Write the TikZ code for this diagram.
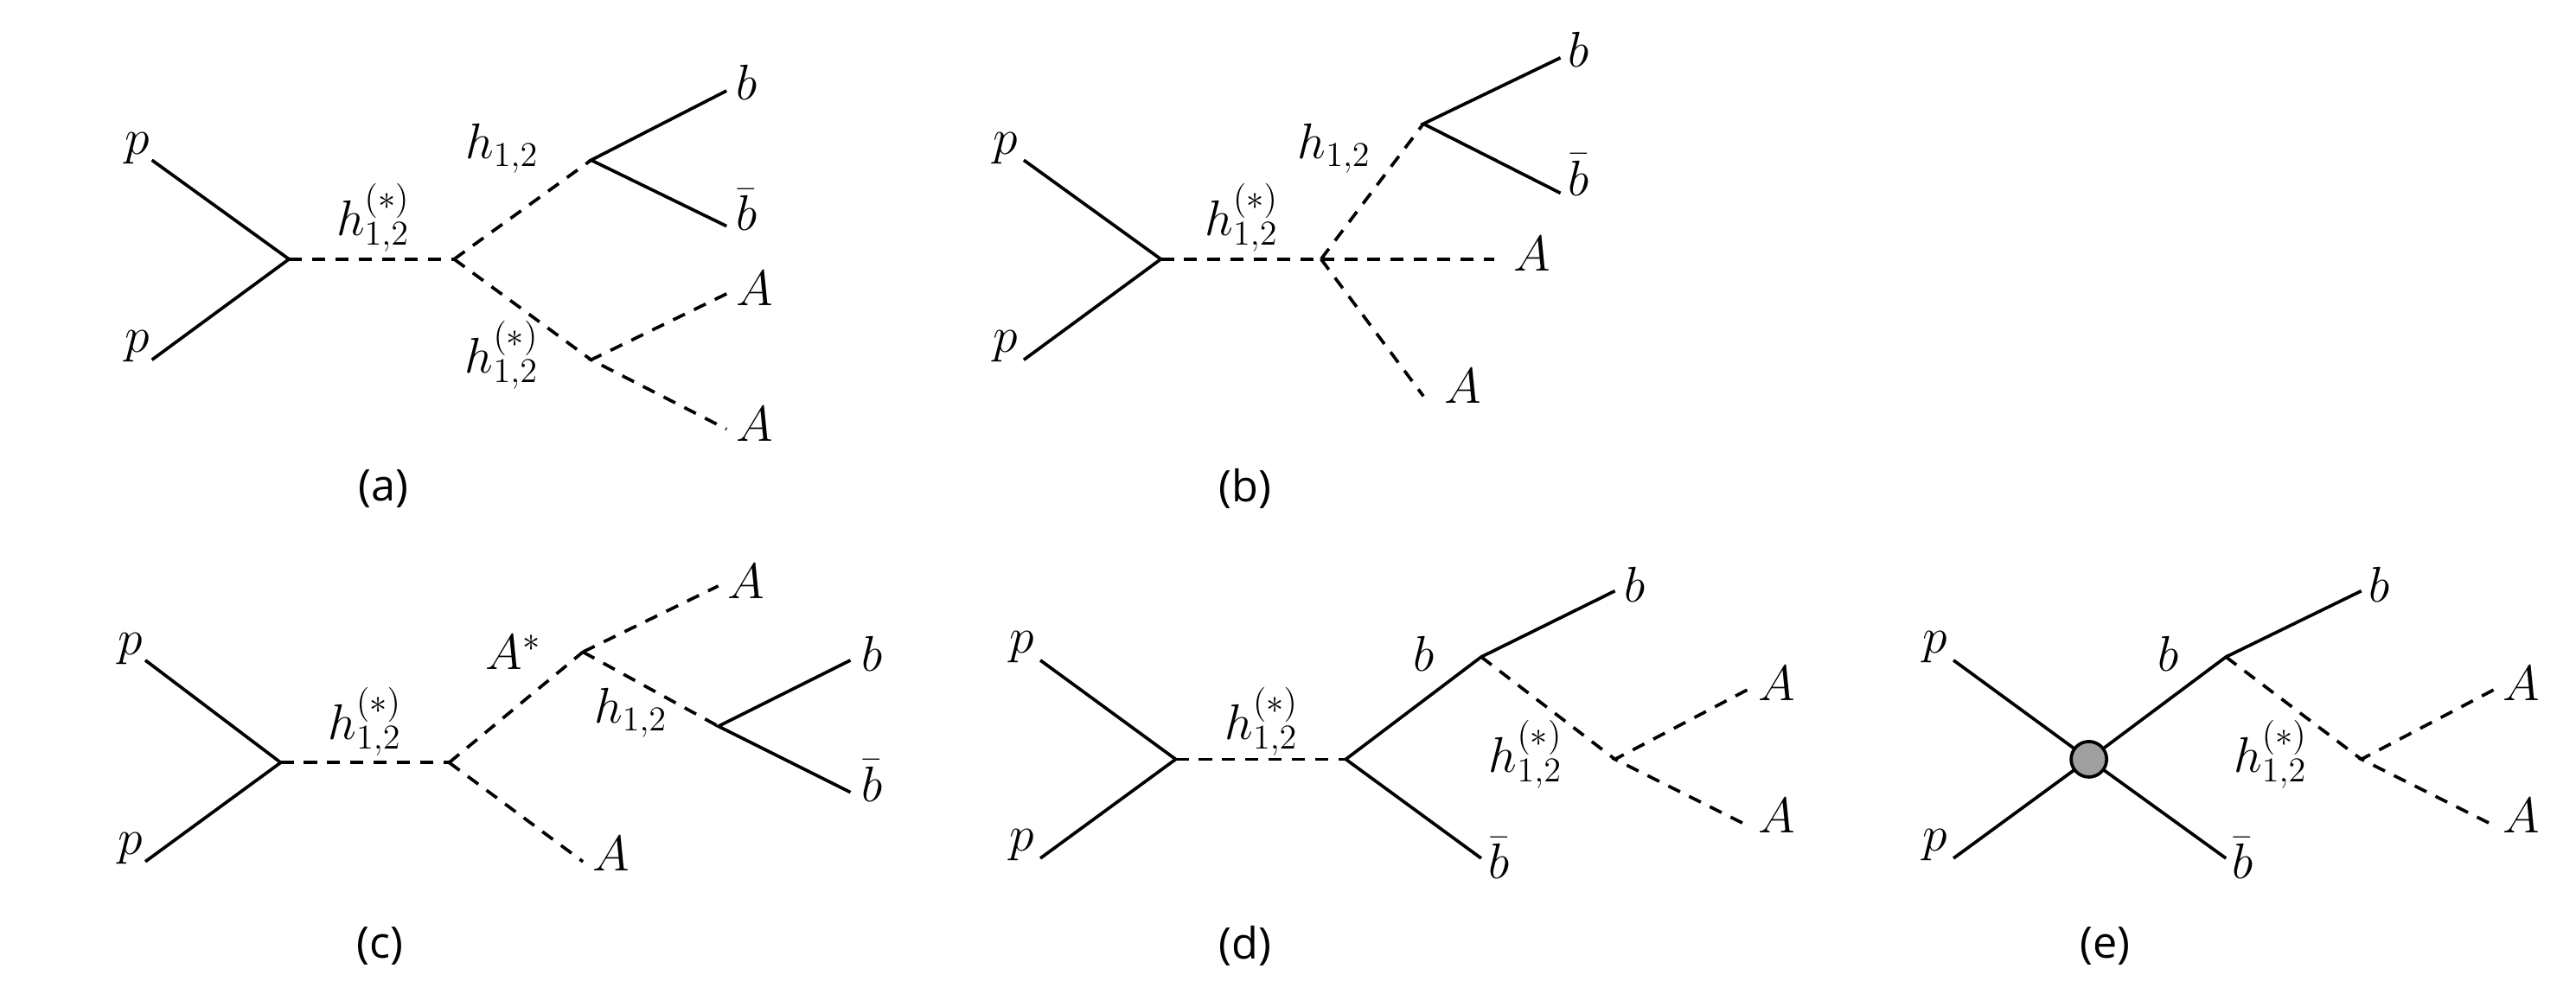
\documentclass[tikz,border=0pt]{standalone}
\usepackage{fontspec}
\newfontfamily\capfont{Open Sans}
\begin{document}
\begin{tikzpicture}[x=0.02cm,y=-0.02cm,
  fer/.style={line width=1.1pt},
  sca/.style={line width=1.1pt,dash pattern=on 4.5pt off 3.5pt},
  lab/.style={font=\fontsize{17}{20}\selectfont},
  captext/.style={font=\capfont\fontsize{15}{18}\selectfont}]
\useasboundingbox (0,0) rectangle (1560,602);
% (a)
\coordinate (a1) at (92,97); \coordinate (a2) at (92,218); \coordinate (av) at (175,157);
\coordinate (aw) at (275,157); \coordinate (ax) at (358,97); \coordinate (ay) at (358,218);
\coordinate (ab) at (440,55); \coordinate (abb) at (440,137); \coordinate (aA1) at (440,178); \coordinate (aA2) at (440,260);
\draw[fer] (a1)--(av)--(a2); \draw[sca] (av)--(aw); \draw[sca] (aw)--(ax); \draw[sca] (aw)--(ay);
\draw[fer] (ab)--(ax)--(abb); \draw[sca] (aA1)--(ay)--(aA2);
\node[lab] (ta1) at (83,90) {$p$}; \node[lab] (ta2) at (83,210) {$p$};
\node[lab] (ta3) at (226,132) {$h_{1,2}^{(*)}$}; \node[lab] (ta4) at (304,90) {$h_{1,2}$};
\node[lab] (ta5) at (304,215) {$h_{1,2}^{(*)}$};
\node[lab] (ta6) at (452,50) {$b$}; \node[lab] (ta7) at (452,127) {$\bar b$};
\node[lab] (ta8) at (457,175) {$A$}; \node[lab] (ta9) at (457,257) {$A$};
\node[captext] (ca) at (232,296) {(a)};
% (b)
\coordinate (b1) at (620,97); \coordinate (b2) at (620,218); \coordinate (bv) at (703,157);
\coordinate (bw) at (800,157); \coordinate (bx) at (862,75);
\coordinate (bb) at (945,35); \coordinate (bbb) at (945,117); \coordinate (bA1) at (905,157); \coordinate (bA2) at (862,240);
\draw[fer] (b1)--(bv)--(b2); \draw[sca] (bv)--(bw); \draw[sca] (bw)--(bx); \draw[sca] (bw)--(bA1); \draw[sca] (bw)--(bA2);
\draw[fer] (bb)--(bx)--(bbb);
\node[lab] (tb1) at (609,90) {$p$}; \node[lab] (tb2) at (609,210) {$p$};
\node[lab] (tb3) at (752,132) {$h_{1,2}^{(*)}$}; \node[lab] (tb4) at (808,90) {$h_{1,2}$};
\node[lab] (tb6) at (956,30) {$b$}; \node[lab] (tb7) at (956,106) {$\bar b$};
\node[lab] (tb8) at (928,154) {$A$}; \node[lab] (tb9) at (886,234) {$A$};
\node[captext] (cb) at (754,296) {(b)};
% (c)
\coordinate (c1) at (88,400); \coordinate (c2) at (88,522); \coordinate (cv) at (170,462);
\coordinate (cw) at (272,462); \coordinate (cx) at (353,395); \coordinate (cy) at (435,440);
\coordinate (cA1) at (435,355); \coordinate (cA2) at (353,522); \coordinate (cb) at (515,400); \coordinate (cbb) at (515,480);
\draw[fer] (c1)--(cv)--(c2); \draw[sca] (cv)--(cw); \draw[sca] (cw)--(cx); \draw[sca] (cw)--(cA2);
\draw[sca] (cx)--(cA1); \draw[sca] (cx)--(cy); \draw[fer] (cb)--(cy)--(cbb);
\node[lab] (tc1) at (79,393) {$p$}; \node[lab] (tc2) at (79,514) {$p$};
\node[lab] (tc3) at (221,437) {$h_{1,2}^{(*)}$}; \node[lab] (tc4) at (311,395) {$A^*$};
\node[lab] (tc5) at (382,432) {$h_{1,2}$}; \node[lab] (tc6) at (452,352) {$A$};
\node[lab] (tc7) at (528,396) {$b$}; \node[lab] (tc8) at (528,473) {$\bar b$}; \node[lab] (tc9) at (370,517) {$A$};
\node[captext] (cc) at (230,573) {(c)};
% (d)
\coordinate (d1) at (630,400); \coordinate (d2) at (630,520); \coordinate (dv) at (712,460);
\coordinate (dw) at (815,460); \coordinate (dx) at (897,398); \coordinate (db) at (978,358); \coordinate (dbb) at (897,520);
\coordinate (dy) at (978,460); \coordinate (dA1) at (1058,418); \coordinate (dA2) at (1058,500);
\draw[fer] (d1)--(dv)--(d2); \draw[sca] (dv)--(dw); \draw[fer] (dw)--(dx)--(db); \draw[fer] (dw)--(dbb);
\draw[sca] (dx)--(dy); \draw[sca] (dA1)--(dy)--(dA2);
\node[lab] (td1) at (619,392) {$p$}; \node[lab] (td2) at (619,512) {$p$};
\node[lab] (td3) at (764,437) {$h_{1,2}^{(*)}$}; \node[lab] (td4) at (862,396) {$b$};
\node[lab] (td5) at (990,354) {$b$}; \node[lab] (td6) at (908,520) {$\bar b$};
\node[lab] (td7) at (924,457) {$h_{1,2}^{(*)}$}; \node[lab] (td8) at (1076,414) {$A$}; \node[lab] (td9) at (1076,494) {$A$};
\node[captext] (cd) at (754,573) {(d)};
% (e)
\coordinate (e1) at (1183,400); \coordinate (e2) at (1183,520); \coordinate (ev) at (1265,460);
\coordinate (ex) at (1348,398); \coordinate (eb) at (1430,358); \coordinate (ebb) at (1348,520);
\coordinate (ey) at (1430,460); \coordinate (eA1) at (1510,418); \coordinate (eA2) at (1510,500);
\draw[fer] (e1)--(ev)--(ebb); \draw[fer] (e2)--(ev)--(ex)--(eb);
\draw[sca] (ex)--(ey); \draw[sca] (eA1)--(ey)--(eA2);
\node[draw,fill=gray!75,circle,line width=1.1pt,minimum size=0.43cm,inner sep=0pt] (blob) at (ev) {};
\node[lab] (te1) at (1172,392) {$p$}; \node[lab] (te2) at (1172,512) {$p$};
\node[lab] (te4) at (1313,396) {$b$}; \node[lab] (te5) at (1441,354) {$b$}; \node[lab] (te6) at (1358,520) {$\bar b$};
\node[lab] (te7) at (1375,457) {$h_{1,2}^{(*)}$}; \node[lab] (te8) at (1527,414) {$A$}; \node[lab] (te9) at (1527,494) {$A$};
\node[captext] (ce) at (1275,573) {(e)};
\end{tikzpicture}
\end{document}
